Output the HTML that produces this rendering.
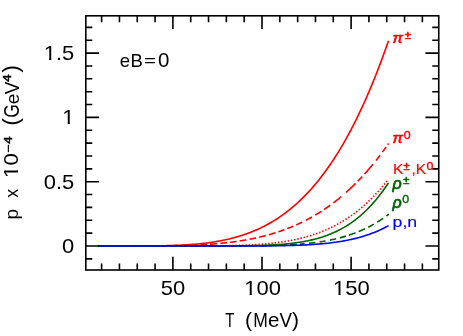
<!DOCTYPE html>
<html><head><meta charset="utf-8"><title>p vs T</title>
<style>
html,body{margin:0;padding:0;background:#fff;}
body{width:463px;height:336px;overflow:hidden;font-family:"Liberation Sans",sans-serif;}
svg{display:block;}
text{font-family:"Liberation Sans",sans-serif;}
svg{will-change:transform;filter:contrast(1);}
</style></head><body>
<svg width="463" height="336" viewBox="0 0 463 336">
<rect width="463" height="336" fill="#fff"/>
<g>
<path d="M98.06,246.00 L99.84,246.00 L101.62,246.00 L103.40,246.00 L105.18,246.00 L106.97,246.00 L108.75,246.00 L110.53,246.00 L112.31,246.00 L114.09,246.00 L115.88,246.00 L117.66,246.00 L119.44,246.00 L121.22,246.00 L123.00,246.00 L124.79,246.00 L126.57,246.00 L128.35,246.00 L130.13,245.99 L131.91,245.99 L133.70,245.99 L135.48,245.99 L137.26,245.98 L139.04,245.98 L140.82,245.97 L142.61,245.96 L144.39,245.95 L146.17,245.94 L147.95,245.93 L149.73,245.92 L151.52,245.90 L153.30,245.89 L155.08,245.86 L156.86,245.84 L158.64,245.82 L160.43,245.79 L162.21,245.75 L163.99,245.72 L165.77,245.68 L167.55,245.63 L169.34,245.59 L171.12,245.53 L172.90,245.47 L174.68,245.41 L176.46,245.34 L178.25,245.27 L180.03,245.18 L181.81,245.10 L183.59,245.00 L185.37,244.90 L187.16,244.79 L188.94,244.67 L190.72,244.54 L192.50,244.41 L194.28,244.26 L196.07,244.11 L197.85,243.94 L199.63,243.77 L201.41,243.58 L203.19,243.38 L204.98,243.17 L206.76,242.95 L208.54,242.72 L210.32,242.47 L212.10,242.21 L213.89,241.94 L215.67,241.65 L217.45,241.34 L219.23,241.02 L221.01,240.69 L222.80,240.33 L224.58,239.96 L226.36,239.58 L228.14,239.17 L229.92,238.75 L231.71,238.30 L233.49,237.84 L235.27,237.36 L237.05,236.85 L238.83,236.33 L240.62,235.78 L242.40,235.21 L244.18,234.61 L245.96,234.00 L247.74,233.35 L249.53,232.69 L251.31,231.99 L253.09,231.27 L254.87,230.53 L256.65,229.75 L258.44,228.95 L260.22,228.12 L262.00,227.26 L263.78,226.37 L265.56,225.44 L267.35,224.49 L269.13,223.50 L270.91,222.48 L272.69,221.43 L274.47,220.34 L276.26,219.22 L278.04,218.06 L279.82,216.86 L281.60,215.63 L283.38,214.36 L285.17,213.05 L286.95,211.70 L288.73,210.31 L290.51,208.87 L292.29,207.40 L294.08,205.88 L295.86,204.32 L297.64,202.72 L299.42,201.07 L301.20,199.37 L302.99,197.63 L304.77,195.84 L306.55,193.99 L308.33,192.11 L310.11,190.17 L311.90,188.17 L313.68,186.13 L315.46,184.03 L317.24,181.89 L319.02,179.68 L320.81,177.42 L322.59,175.10 L324.37,172.73 L326.15,170.30 L327.93,167.80 L329.72,165.25 L331.50,162.64 L333.28,159.96 L335.06,157.22 L336.84,154.42 L338.63,151.55 L340.41,148.62 L342.19,145.62 L343.97,142.55 L345.75,139.41 L347.54,136.21 L349.32,132.93 L351.10,129.58 L352.88,126.16 L354.66,122.66 L356.45,119.09 L358.23,115.44 L360.01,111.71 L361.79,107.91 L363.57,104.03 L365.36,100.06 L367.14,96.02 L368.92,91.89 L370.70,87.68 L372.48,83.39 L374.27,79.00 L376.05,74.54 L377.83,69.98 L379.61,65.34 L381.39,60.60 L383.18,55.77 L384.96,50.85 L386.74,45.84 L388.52,40.73" stroke="#ff0000" fill="none" stroke-width="1.6"/>
<path d="M103.20,246.00 L104.17,246.00 L105.14,246.00 L106.11,246.00 L107.09,246.00 L108.06,246.00 L109.03,246.00 L110.00,246.00 M112.90,246.00 L113.87,246.00 L114.84,246.00 L115.81,246.00 L116.79,246.00 L117.76,246.00 L118.73,246.00 L119.70,246.00 M122.60,246.00 L123.57,246.00 L124.54,246.00 L125.51,246.00 L126.49,246.00 L127.46,246.00 L128.43,246.00 L129.40,246.00 M132.30,246.00 L133.27,245.99 L134.24,245.99 L135.21,245.99 L136.19,245.99 L137.16,245.99 L138.13,245.99 L139.10,245.99 M142.00,245.98 L142.97,245.98 L143.94,245.98 L144.91,245.97 L145.89,245.97 L146.86,245.97 L147.83,245.96 L148.80,245.96 M151.70,245.95 L152.67,245.94 L153.64,245.94 L154.61,245.93 L155.59,245.92 L156.56,245.92 L157.53,245.91 L158.50,245.90 M161.40,245.88 L162.37,245.87 L163.34,245.86 L164.31,245.85 L165.29,245.84 L166.26,245.82 L167.23,245.81 L168.20,245.80 M171.10,245.75 L172.07,245.74 L173.04,245.72 L174.01,245.70 L174.99,245.69 L175.96,245.67 L176.93,245.65 L177.90,245.62 M180.80,245.56 L181.77,245.53 L182.74,245.50 L183.71,245.48 L184.69,245.45 L185.66,245.42 L186.63,245.39 L187.60,245.36 M190.50,245.25 L191.47,245.22 L192.44,245.18 L193.41,245.14 L194.39,245.10 L195.36,245.06 L196.33,245.01 L197.30,244.97 M200.20,244.82 L201.17,244.77 L202.14,244.71 L203.11,244.66 L204.09,244.60 L205.06,244.54 L206.03,244.48 L207.00,244.42 M209.90,244.22 L210.83,244.16 L211.75,244.09 L212.68,244.02 L213.60,243.94 L214.53,243.87 L215.45,243.79 L216.38,243.71 L217.30,243.63 M220.30,243.36 L221.26,243.26 L222.21,243.17 L223.17,243.07 L224.13,242.97 L225.09,242.87 L226.04,242.76 L227.00,242.66 M229.90,242.31 L230.86,242.19 L231.81,242.07 L232.77,241.95 L233.73,241.82 L234.69,241.69 L235.64,241.56 L236.60,241.42 M239.60,240.97 L240.56,240.82 L241.51,240.67 L242.47,240.51 L243.43,240.35 L244.39,240.19 L245.34,240.03 L246.30,239.86 M249.50,239.26 L250.44,239.08 L251.39,238.89 L252.33,238.70 L253.27,238.51 L254.21,238.31 L255.16,238.11 L256.10,237.91 M259.10,237.23 L260.06,237.00 L261.01,236.77 L261.97,236.54 L262.93,236.30 L263.89,236.06 L264.84,235.81 L265.80,235.56 M268.80,234.74 L269.76,234.47 L270.71,234.20 L271.67,233.92 L272.63,233.63 L273.59,233.34 L274.54,233.05 L275.50,232.75 M278.40,231.81 L279.26,231.52 L280.11,231.23 L280.97,230.93 L281.83,230.63 L282.69,230.32 L283.54,230.02 L284.40,229.70 M287.30,228.61 L288.16,228.27 L289.01,227.93 L289.87,227.59 L290.73,227.24 L291.59,226.89 L292.44,226.53 L293.30,226.17 M296.20,224.90 L297.06,224.52 L297.91,224.13 L298.77,223.73 L299.63,223.33 L300.49,222.93 L301.34,222.52 L302.20,222.10 M305.90,220.24 L306.76,219.79 L307.61,219.34 L308.47,218.88 L309.33,218.42 L310.19,217.95 L311.04,217.47 L311.90,216.99 M315.30,215.02 L316.28,214.44 L317.27,213.84 L318.25,213.24 L319.23,212.62 L320.22,212.00 L321.20,211.38 M324.00,209.54 L324.89,208.94 L325.77,208.34 L326.66,207.73 L327.54,207.11 L328.43,206.48 L329.31,205.85 L330.20,205.21 M333.40,202.84 L334.36,202.10 L335.32,201.36 L336.29,200.61 L337.25,199.84 L338.21,199.07 L339.18,198.29 L340.14,197.50 L341.10,196.70 M346.00,192.47 L346.96,191.61 L347.92,190.75 L348.88,189.87 L349.84,188.98 L350.80,188.08 L351.76,187.17 L352.72,186.25 L353.68,185.31 L354.64,184.37 L355.60,183.42 M357.80,181.19 L358.70,180.27 L359.60,179.33 L360.50,178.38 L361.40,177.43 L362.30,176.46 M364.50,174.06 L365.44,173.01 L366.39,171.94 L367.33,170.87 L368.28,169.78 L369.22,168.69 L370.17,167.58 L371.11,166.46 L372.06,165.33 L373.00,164.18 M376.00,160.47 L376.82,159.43 L377.64,158.39 L378.46,157.33 L379.28,156.27 L380.10,155.19 M382.40,152.13 L383.32,150.88 L384.25,149.61 L385.18,148.33 L386.10,147.04 M387.70,144.78 L388.60,143.49" stroke="#ff0000" fill="none" stroke-width="1.6"/>
<path d="M387.10,180.95 L385.32,183.16 L383.55,185.31 L381.78,187.41 L380.00,189.45 L378.23,191.44 L376.46,193.37 L374.68,195.26 L372.91,197.09 L371.14,198.87 L369.36,200.60 L367.59,202.28 L365.82,203.91 L364.04,205.50 L362.27,207.04 L360.50,208.53 L358.72,209.99 L356.95,211.39 L355.18,212.76 L353.40,214.08 L351.63,215.37 L349.86,216.61 L348.08,217.82 L346.31,218.98 L344.54,220.11 L342.77,221.21 L340.99,222.26 L339.22,223.29 L337.45,224.27 L335.67,225.23 L333.90,226.15 L332.13,227.04 L330.35,227.90 L328.58,228.73 L326.81,229.53 L325.03,230.30 L323.26,231.04 L321.49,231.76 L319.71,232.45 L317.94,233.11 L316.17,233.75 L314.39,234.36 L312.62,234.95 L310.85,235.51 L309.07,236.06 L307.30,236.58 L305.53,237.08 L303.75,237.56 L301.98,238.01 L300.21,238.45 L298.43,238.87 L296.66,239.27 L294.89,239.66 L293.11,240.02 L291.34,240.37 L289.57,240.71 L287.79,241.02 L286.02,241.33 L284.25,241.62 L282.47,241.89 L280.70,242.15 L278.93,242.40 L277.15,242.63 L275.38,242.85 L273.61,243.06 L271.83,243.26 L270.06,243.45 L268.29,243.63 L266.52,243.80 L264.74,243.96 L262.97,244.11 L261.20,244.25 L259.42,244.38 L257.65,244.50 L255.88,244.62 L254.10,244.73 L252.33,244.83 L250.56,244.93 L248.78,245.01 L247.01,245.10 L245.24,245.18 L243.46,245.25 L241.69,245.31 L239.92,245.38 L238.14,245.43 L236.37,245.49 L234.60,245.54 L232.82,245.58 L231.05,245.62 L229.28,245.66 L227.50,245.70 L225.73,245.73 L223.96,245.76 L222.18,245.78 L220.41,245.81 L218.64,245.83 L216.86,245.85 L215.09,245.87 L213.32,245.88 L211.54,245.90 L209.77,245.91 L208.00,245.92 L206.22,245.93 L204.45,245.94 L202.68,245.95 L200.90,245.96 L199.13,245.96 L197.36,245.97 L195.58,245.97 L193.81,245.98 L192.04,245.98 L190.27,245.98 L188.49,245.99 L186.72,245.99 L184.95,245.99 L183.17,245.99 L181.40,245.99 L179.63,246.00 L177.85,246.00 L176.08,246.00 L174.31,246.00 L172.53,246.00 L170.76,246.00 L168.99,246.00 L167.21,246.00 L165.44,246.00 L163.67,246.00 L161.89,246.00 L160.12,246.00 L158.35,246.00 L156.57,246.00 L154.80,246.00 L153.03,246.00 L151.25,246.00 L149.48,246.00 L147.71,246.00 L145.93,246.00 L144.16,246.00 L142.39,246.00 L140.61,246.00 L138.84,246.00 L137.07,246.00 L135.29,246.00 L133.52,246.00 L131.75,246.00 L129.97,246.00 L128.20,246.00 L126.43,246.00 L124.65,246.00 L122.88,246.00 L121.11,246.00 L119.34,246.00 L117.56,246.00 L115.79,246.00 L114.02,246.00 L112.24,246.00 L110.47,246.00 L108.70,246.00 L106.92,246.00 L105.15,246.00 L103.38,246.00 L101.60,246.00 L99.83,246.00 L98.06,246.00" stroke="#ff0000" fill="none" stroke-width="1.6" stroke-dasharray="1.45 1.82"/>
<path d="M98.06,246.00 L99.84,246.00 L101.62,246.00 L103.40,246.00 L105.18,246.00 L106.97,246.00 L108.75,246.00 L110.53,246.00 L112.31,246.00 L114.09,246.00 L115.88,246.00 L117.66,246.00 L119.44,246.00 L121.22,246.00 L123.00,246.00 L124.79,246.00 L126.57,246.00 L128.35,246.00 L130.13,246.00 L131.91,246.00 L133.70,246.00 L135.48,246.00 L137.26,246.00 L139.04,246.00 L140.82,246.00 L142.61,246.00 L144.39,246.00 L146.17,246.00 L147.95,246.00 L149.73,246.00 L151.52,246.00 L153.30,246.00 L155.08,246.00 L156.86,246.00 L158.64,246.00 L160.43,246.00 L162.21,246.00 L163.99,246.00 L165.77,246.00 L167.55,246.00 L169.34,246.00 L171.12,246.00 L172.90,246.00 L174.68,246.00 L176.46,246.00 L178.25,246.00 L180.03,246.00 L181.81,246.00 L183.59,246.00 L185.37,246.00 L187.16,246.00 L188.94,246.00 L190.72,246.00 L192.50,246.00 L194.28,246.00 L196.07,246.00 L197.85,246.00 L199.63,246.00 L201.41,246.00 L203.19,246.00 L204.98,245.99 L206.76,245.99 L208.54,245.99 L210.32,245.99 L212.10,245.99 L213.89,245.99 L215.67,245.98 L217.45,245.98 L219.23,245.98 L221.01,245.97 L222.80,245.97 L224.58,245.96 L226.36,245.95 L228.14,245.95 L229.92,245.94 L231.71,245.93 L233.49,245.92 L235.27,245.91 L237.05,245.89 L238.83,245.88 L240.62,245.86 L242.40,245.84 L244.18,245.82 L245.96,245.79 L247.74,245.77 L249.53,245.74 L251.31,245.71 L253.09,245.67 L254.87,245.63 L256.65,245.59 L258.44,245.54 L260.22,245.49 L262.00,245.43 L263.78,245.37 L265.56,245.30 L267.35,245.22 L269.13,245.14 L270.91,245.06 L272.69,244.96 L274.47,244.86 L276.26,244.75 L278.04,244.63 L279.82,244.50 L281.60,244.36 L283.38,244.21 L285.17,244.06 L286.95,243.88 L288.73,243.70 L290.51,243.50 L292.29,243.30 L294.08,243.07 L295.86,242.83 L297.64,242.58 L299.42,242.31 L301.20,242.02 L302.99,241.71 L304.77,241.39 L306.55,241.04 L308.33,240.68 L310.11,240.29 L311.90,239.88 L313.68,239.44 L315.46,238.99 L317.24,238.50 L319.02,237.99 L320.81,237.45 L322.59,236.89 L324.37,236.29 L326.15,235.66 L327.93,235.00 L329.72,234.30 L331.50,233.57 L333.28,232.81 L335.06,232.00 L336.84,231.16 L338.63,230.28 L340.41,229.36 L342.19,228.39 L343.97,227.38 L345.75,226.32 L347.54,225.22 L349.32,224.06 L351.10,222.86 L352.88,221.60 L354.66,220.29 L356.45,218.93 L358.23,217.50 L360.01,216.02 L361.79,214.48 L363.57,212.88 L365.36,211.21 L367.14,209.48 L368.92,207.67 L370.70,205.80 L372.48,203.86 L374.27,201.84 L376.05,199.75 L377.83,197.58 L379.61,195.33 L381.39,193.00 L383.18,190.58 L384.96,188.08 L386.74,185.50 L388.52,182.82" stroke="#006400" fill="none" stroke-width="1.6"/>
<path d="M102.10,246.00 L103.03,246.00 L103.96,246.00 L104.89,246.00 L105.81,246.00 L106.74,246.00 L107.67,246.00 L108.60,246.00 M112.00,246.00 L112.93,246.00 L113.86,246.00 L114.79,246.00 L115.71,246.00 L116.64,246.00 L117.57,246.00 L118.50,246.00 M121.90,246.00 L122.83,246.00 L123.76,246.00 L124.69,246.00 L125.61,246.00 L126.54,246.00 L127.47,246.00 L128.40,246.00 M131.80,246.00 L132.73,246.00 L133.66,246.00 L134.59,246.00 L135.51,246.00 L136.44,246.00 L137.37,246.00 L138.30,246.00 M141.70,246.00 L142.63,246.00 L143.56,246.00 L144.49,246.00 L145.41,246.00 L146.34,246.00 L147.27,246.00 L148.20,246.00 M151.60,246.00 L152.53,246.00 L153.46,246.00 L154.39,246.00 L155.31,246.00 L156.24,246.00 L157.17,246.00 L158.10,246.00 M161.50,246.00 L162.43,246.00 L163.36,246.00 L164.29,246.00 L165.21,246.00 L166.14,246.00 L167.07,246.00 L168.00,246.00 M171.40,246.00 L172.33,246.00 L173.26,246.00 L174.19,246.00 L175.11,246.00 L176.04,246.00 L176.97,246.00 L177.90,246.00 M181.30,246.00 L182.23,246.00 L183.16,246.00 L184.09,246.00 L185.01,246.00 L185.94,246.00 L186.87,246.00 L187.80,246.00 M191.20,246.00 L192.13,246.00 L193.06,246.00 L193.99,246.00 L194.91,246.00 L195.84,246.00 L196.77,246.00 L197.70,246.00 M201.10,246.00 L202.03,246.00 L202.96,246.00 L203.89,246.00 L204.81,246.00 L205.74,246.00 L206.67,246.00 L207.60,246.00 M211.00,245.99 L211.93,245.99 L212.86,245.99 L213.79,245.99 L214.71,245.99 L215.64,245.99 L216.57,245.99 L217.50,245.99 M220.90,245.99 L221.83,245.98 L222.76,245.98 L223.69,245.98 L224.61,245.98 L225.54,245.98 L226.47,245.98 L227.40,245.98 M230.80,245.97 L231.73,245.96 L232.66,245.96 L233.59,245.96 L234.51,245.96 L235.44,245.95 L236.37,245.95 L237.30,245.95 M240.70,245.93 L241.63,245.92 L242.56,245.92 L243.49,245.91 L244.41,245.91 L245.34,245.90 L246.27,245.89 L247.20,245.89 M250.60,245.86 L251.53,245.85 L252.46,245.84 L253.39,245.83 L254.31,245.82 L255.24,245.81 L256.17,245.80 L257.10,245.79 M260.50,245.74 L261.43,245.72 L262.36,245.71 L263.29,245.69 L264.21,245.68 L265.14,245.66 L266.07,245.64 L267.00,245.62 M270.40,245.54 L271.33,245.52 L272.26,245.49 L273.19,245.47 L274.11,245.44 L275.04,245.41 L275.97,245.38 L276.90,245.35 M280.30,245.23 L281.23,245.20 L282.16,245.16 L283.09,245.12 L284.01,245.08 L284.94,245.04 L285.87,244.99 L286.80,244.95 M290.20,244.77 L291.13,244.72 L292.06,244.66 L292.99,244.61 L293.91,244.55 L294.84,244.49 L295.77,244.42 L296.70,244.36 M299.90,244.12 L300.86,244.04 L301.82,243.96 L302.78,243.87 L303.74,243.79 L304.70,243.70 M309.10,243.26 L310.00,243.16 L310.90,243.06 L311.80,242.95 L312.70,242.84 L313.60,242.73 L314.50,242.62 L315.40,242.50 M319.60,241.91 L320.58,241.76 L321.57,241.61 L322.55,241.45 L323.53,241.29 L324.52,241.12 L325.50,240.95 M329.90,240.11 L330.79,239.93 L331.67,239.75 L332.56,239.56 L333.44,239.37 L334.33,239.17 L335.21,238.97 L336.10,238.76 M339.80,237.84 L340.67,237.61 L341.54,237.37 L342.41,237.13 L343.29,236.89 L344.16,236.64 L345.03,236.38 L345.90,236.12 M348.90,235.17 L349.86,234.85 L350.81,234.53 L351.77,234.20 L352.73,233.86 L353.69,233.51 L354.64,233.15 L355.60,232.79 M358.60,231.60 L359.51,231.22 L360.43,230.83 L361.34,230.44 L362.26,230.03 L363.17,229.62 L364.09,229.20 L365.00,228.77 M368.20,227.20 L369.15,226.72 L370.10,226.22 L371.05,225.71 L372.00,225.20 L372.95,224.67 L373.90,224.13 M377.20,222.18 L378.18,221.57 L379.17,220.95 L380.15,220.32 L381.13,219.67 L382.12,219.02 L383.10,218.34 M386.40,216.00 L387.23,215.38 L388.07,214.75 L388.90,214.12" stroke="#006400" fill="none" stroke-width="1.6"/>
<path d="M98.06,246.00 L99.84,246.00 L101.62,246.00 L103.40,246.00 L105.18,246.00 L106.97,246.00 L108.75,246.00 L110.53,246.00 L112.31,246.00 L114.09,246.00 L115.88,246.00 L117.66,246.00 L119.44,246.00 L121.22,246.00 L123.00,246.00 L124.79,246.00 L126.57,246.00 L128.35,246.00 L130.13,246.00 L131.91,246.00 L133.70,246.00 L135.48,246.00 L137.26,246.00 L139.04,246.00 L140.82,246.00 L142.61,246.00 L144.39,246.00 L146.17,246.00 L147.95,246.00 L149.73,246.00 L151.52,246.00 L153.30,246.00 L155.08,246.00 L156.86,246.00 L158.64,246.00 L160.43,246.00 L162.21,246.00 L163.99,246.00 L165.77,246.00 L167.55,246.00 L169.34,246.00 L171.12,246.00 L172.90,246.00 L174.68,246.00 L176.46,246.00 L178.25,246.00 L180.03,246.00 L181.81,246.00 L183.59,246.00 L185.37,246.00 L187.16,246.00 L188.94,246.00 L190.72,246.00 L192.50,246.00 L194.28,246.00 L196.07,246.00 L197.85,246.00 L199.63,246.00 L201.41,246.00 L203.19,246.00 L204.98,246.00 L206.76,246.00 L208.54,246.00 L210.32,246.00 L212.10,246.00 L213.89,246.00 L215.67,246.00 L217.45,246.00 L219.23,246.00 L221.01,246.00 L222.80,246.00 L224.58,246.00 L226.36,245.99 L228.14,245.99 L229.92,245.99 L231.71,245.99 L233.49,245.99 L235.27,245.99 L237.05,245.99 L238.83,245.98 L240.62,245.98 L242.40,245.98 L244.18,245.97 L245.96,245.97 L247.74,245.97 L249.53,245.96 L251.31,245.96 L253.09,245.95 L254.87,245.94 L256.65,245.93 L258.44,245.93 L260.22,245.92 L262.00,245.90 L263.78,245.89 L265.56,245.88 L267.35,245.86 L269.13,245.85 L270.91,245.83 L272.69,245.81 L274.47,245.79 L276.26,245.76 L278.04,245.74 L279.82,245.71 L281.60,245.68 L283.38,245.65 L285.17,245.61 L286.95,245.57 L288.73,245.53 L290.51,245.48 L292.29,245.43 L294.08,245.37 L295.86,245.32 L297.64,245.25 L299.42,245.18 L301.20,245.11 L302.99,245.03 L304.77,244.95 L306.55,244.86 L308.33,244.76 L310.11,244.66 L311.90,244.55 L313.68,244.43 L315.46,244.31 L317.24,244.17 L319.02,244.03 L320.81,243.88 L322.59,243.72 L324.37,243.55 L326.15,243.37 L327.93,243.17 L329.72,242.97 L331.50,242.75 L333.28,242.53 L335.06,242.29 L336.84,242.03 L338.63,241.76 L340.41,241.48 L342.19,241.18 L343.97,240.87 L345.75,240.54 L347.54,240.19 L349.32,239.82 L351.10,239.44 L352.88,239.03 L354.66,238.61 L356.45,238.16 L358.23,237.70 L360.01,237.21 L361.79,236.70 L363.57,236.16 L365.36,235.60 L367.14,235.02 L368.92,234.40 L370.70,233.77 L372.48,233.10 L374.27,232.40 L376.05,231.68 L377.83,230.92 L379.61,230.13 L381.39,229.31 L383.18,228.45 L384.96,227.56 L386.74,226.63 L388.52,225.67" stroke="#0000ff" fill="none" stroke-width="1.6"/>
</g>
<g>
<rect x="85.80" y="15.80" width="352.95" height="254.20" fill="none" stroke="#000" stroke-width="1.6"/><path d="M101.62,270.00 v-6.50 M101.62,15.80 v6.50 M119.44,270.00 v-6.50 M119.44,15.80 v6.50 M137.26,270.00 v-6.50 M137.26,15.80 v6.50 M155.08,270.00 v-6.50 M155.08,15.80 v6.50 M172.90,270.00 v-13.30 M172.90,15.80 v13.30 M190.72,270.00 v-6.50 M190.72,15.80 v6.50 M208.54,270.00 v-6.50 M208.54,15.80 v6.50 M226.36,270.00 v-6.50 M226.36,15.80 v6.50 M244.18,270.00 v-6.50 M244.18,15.80 v6.50 M262.00,270.00 v-13.30 M262.00,15.80 v13.30 M279.82,270.00 v-6.50 M279.82,15.80 v6.50 M297.64,270.00 v-6.50 M297.64,15.80 v6.50 M315.46,270.00 v-6.50 M315.46,15.80 v6.50 M333.28,270.00 v-6.50 M333.28,15.80 v6.50 M351.10,270.00 v-13.30 M351.10,15.80 v13.30 M368.92,270.00 v-6.50 M368.92,15.80 v6.50 M386.74,270.00 v-6.50 M386.74,15.80 v6.50 M404.56,270.00 v-6.50 M404.56,15.80 v6.50 M422.38,270.00 v-6.50 M422.38,15.80 v6.50 M85.80,258.86 h6.50 M438.75,258.86 h-6.50 M85.80,246.00 h13.30 M438.75,246.00 h-13.30 M85.80,233.14 h6.50 M438.75,233.14 h-6.50 M85.80,220.28 h6.50 M438.75,220.28 h-6.50 M85.80,207.42 h6.50 M438.75,207.42 h-6.50 M85.80,194.56 h6.50 M438.75,194.56 h-6.50 M85.80,181.70 h13.30 M438.75,181.70 h-13.30 M85.80,168.84 h6.50 M438.75,168.84 h-6.50 M85.80,155.98 h6.50 M438.75,155.98 h-6.50 M85.80,143.12 h6.50 M438.75,143.12 h-6.50 M85.80,130.26 h6.50 M438.75,130.26 h-6.50 M85.80,117.40 h13.30 M438.75,117.40 h-13.30 M85.80,104.54 h6.50 M438.75,104.54 h-6.50 M85.80,91.68 h6.50 M438.75,91.68 h-6.50 M85.80,78.82 h6.50 M438.75,78.82 h-6.50 M85.80,65.96 h6.50 M438.75,65.96 h-6.50 M85.80,53.10 h13.30 M438.75,53.10 h-13.30 M85.80,40.24 h6.50 M438.75,40.24 h-6.50 M85.80,27.38 h6.50 M438.75,27.38 h-6.50" stroke="#000" stroke-width="1.6" fill="none"/>
</g>
<g>
<defs><clipPath id="c1"><path clip-rule="evenodd" d="M40.71,38.00 h36.51 v30.00 h-36.51 z M44.39,58.00 H49.08 V62.00 H44.39 z M51.32,58.00 H55.85 V62.00 H51.32 z"/></clipPath><clipPath id="c2"><path clip-rule="evenodd" d="M59.30,102.30 h18.20 v30.00 h-18.20 z M62.97,122.00 H67.66 V126.30 H62.97 z M69.90,122.00 H74.43 V126.30 H69.90 z"/></clipPath><clipPath id="c3"><path clip-rule="evenodd" d="M241.27,272.70 h42.61 v30.00 h-42.61 z M244.94,293.00 H249.63 V296.70 H244.94 z M251.87,293.00 H256.40 V296.70 H251.87 z"/></clipPath><clipPath id="c4"><path clip-rule="evenodd" d="M330.07,272.70 h42.61 v30.00 h-42.61 z M333.74,293.00 H338.43 V296.70 H333.74 z M340.67,293.00 H345.20 V296.70 H340.67 z"/></clipPath><clipPath id="c5"><path clip-rule="evenodd" d="M-180.90,-22.00 h18.26 v30.00 h-18.26 z M-177.22,-2.30 H-172.51 V2.00 H-177.22 z M-170.26,-2.30 H-165.71 V2.00 H-170.26 z"/></clipPath></defs>
<g fill="#000">
<text x="43.71" y="60.00" font-size="21" textLength="30.51" lengthAdjust="spacingAndGlyphs" clip-path="url(#c1)">1.5</text>
<text x="62.30" y="124.30" font-size="21" textLength="12.20" lengthAdjust="spacingAndGlyphs" clip-path="url(#c2)">1</text>
<text x="43.71" y="188.70" font-size="21" textLength="30.51" lengthAdjust="spacingAndGlyphs">0.5</text>
<text x="61.95" y="253.00" font-size="21" textLength="12.20" lengthAdjust="spacingAndGlyphs">0</text>
<text x="160.88" y="294.70" font-size="21" textLength="24.41" lengthAdjust="spacingAndGlyphs">50</text>
<text x="244.27" y="294.70" font-size="21" textLength="36.61" lengthAdjust="spacingAndGlyphs" clip-path="url(#c3)">100</text>
<text x="333.07" y="294.70" font-size="21" textLength="36.61" lengthAdjust="spacingAndGlyphs" clip-path="url(#c4)">150</text>
</g>
<g fill="#000">
<text x="225.30" y="327.20" font-size="20" textLength="9.20" lengthAdjust="spacingAndGlyphs">T</text>
<text x="244.9" y="327.0" font-size="21">(</text>
<text x="253.35" y="327.20" font-size="20" textLength="14.58" lengthAdjust="spacingAndGlyphs">M</text>
<text x="267.93" y="327.20" font-size="20" textLength="11.40" lengthAdjust="spacingAndGlyphs">e</text>
<text x="279.55" y="327.20" font-size="20" textLength="12.51" lengthAdjust="spacingAndGlyphs">V</text>
<text x="292.1" y="327.0" font-size="21">)</text>
<text x="119.86" y="66.70" font-size="19" textLength="10.36" lengthAdjust="spacingAndGlyphs">e</text>
<text x="130.38" y="66.70" font-size="19" textLength="12.36" lengthAdjust="spacingAndGlyphs">B</text>
<text x="144.09" y="66.00" font-size="17" textLength="12.08" lengthAdjust="spacingAndGlyphs">=</text>
<text x="158.05" y="66.80" font-size="19.3" textLength="11.40" lengthAdjust="spacingAndGlyphs">0</text>
</g>
<g transform="translate(18.3,0) rotate(-90)" fill="#000">
<text x="-219.4" y="0" font-size="19">p</text>
<text x="-197.8" y="0" font-size="18">x</text>
<text x="-177.90" y="0.00" font-size="21" textLength="12.26" lengthAdjust="spacingAndGlyphs" clip-path="url(#c5)">1</text>
<text x="-165.60" y="0.00" font-size="21" textLength="12.26" lengthAdjust="spacingAndGlyphs">0</text>
<text x="-152.55" y="-6.40" font-size="11.5" textLength="8.35" lengthAdjust="spacingAndGlyphs" stroke="#000" stroke-width="0.4">−</text>
<text x="-143.80" y="-6.00" font-size="11.5" textLength="7.29" lengthAdjust="spacingAndGlyphs" stroke="#000" stroke-width="0.45">4</text>
<text x="-125.5" y="-0.65" font-size="22">(</text>
<text x="-117.80" y="0.50" font-size="22" textLength="13.52" lengthAdjust="spacingAndGlyphs">G</text>
<text x="-104.2" y="0.7" font-size="19">e</text>
<text x="-94.20" y="0.60" font-size="21" textLength="12.61" lengthAdjust="spacingAndGlyphs">V</text>
<text x="-81.70" y="-7.80" font-size="11.5" textLength="7.29" lengthAdjust="spacingAndGlyphs" stroke="#000" stroke-width="0.55">4</text>
<text x="-72.6" y="-0.65" font-size="22">)</text>
</g>

<g font-size="15.5" stroke-width="0.15" stroke-linejoin="round">
<g fill="#ff0000" stroke="#ff0000">
<text x="392.5" y="43" font-style="italic" stroke-width="0.7">π</text>
<text x="404.7" y="39" font-size="10" stroke-width="0.6" textLength="6.1" lengthAdjust="spacingAndGlyphs">±</text>
<text x="392.5" y="143" font-style="italic" stroke-width="0.7">π</text>
<text x="403.8" y="139.2" font-size="11" stroke-width="0.35" textLength="6.9" lengthAdjust="spacingAndGlyphs">0</text>
<text x="393.1" y="173.6">K</text>
<text x="403.4" y="170.2" font-size="10" stroke-width="0.6" textLength="6.1" lengthAdjust="spacingAndGlyphs">±</text>
<text x="411.6" y="173.6">,</text>
<text x="415.7" y="173.6">K</text>
<text x="426.4" y="169.6" font-size="11" stroke-width="0.35" textLength="6.9" lengthAdjust="spacingAndGlyphs">0</text>
</g>
<g fill="#006400" stroke="#006400">
<text x="392.6" y="188.8" font-size="16" font-style="italic" stroke-width="0.7">ρ</text>
<text x="403.2" y="184.3" font-size="10" stroke-width="0.6" textLength="6.1" lengthAdjust="spacingAndGlyphs">±</text>
<text x="392.6" y="208" font-size="16" font-style="italic" stroke-width="0.7">ρ</text>
<text x="402.2" y="203.4" font-size="11" stroke-width="0.35" textLength="6.9" lengthAdjust="spacingAndGlyphs">0</text>
</g>
<text x="392.6" y="226.5" fill="#0000ff" stroke="#0000ff" textLength="24.6" lengthAdjust="spacingAndGlyphs">p,n</text>
</g>

</g>
</svg>
</body></html>
